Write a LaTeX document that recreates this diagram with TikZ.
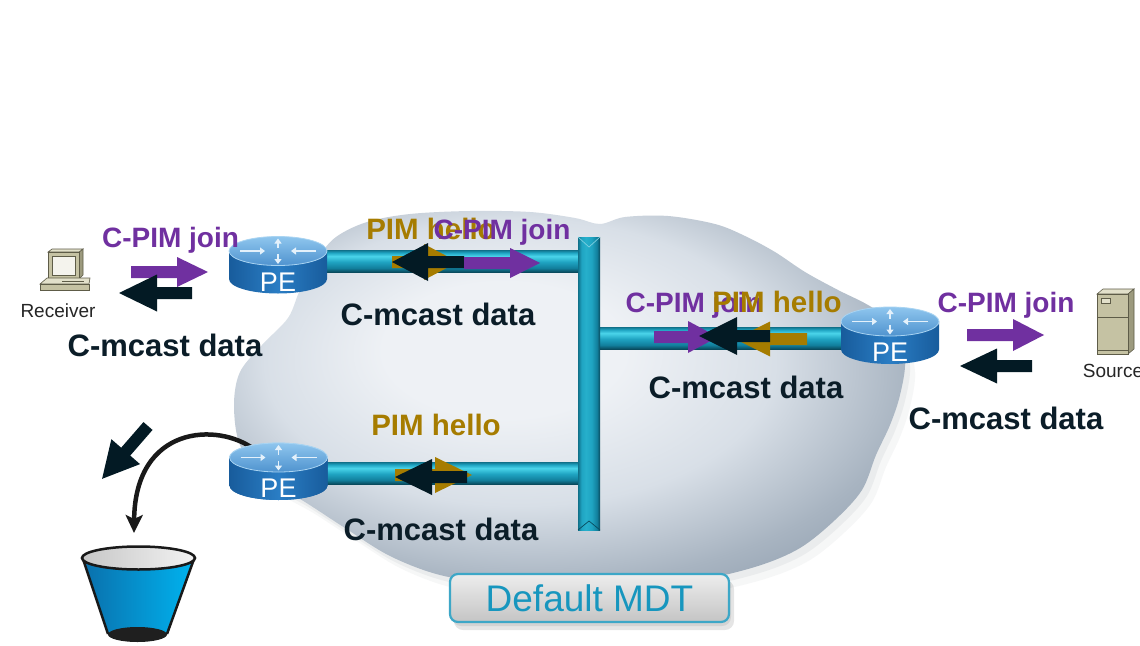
\documentclass[tikz,border=0pt]{standalone}
\usepackage{fontspec}
\setmainfont{Liberation Sans}
\usetikzlibrary{arrows.meta}

\definecolor{joinc}{HTML}{7030A0}
\definecolor{helloc}{HTML}{A67C00}
\definecolor{datac}{HTML}{0B1D28}
\definecolor{arrowk}{HTML}{031A24}
\definecolor{pipeE}{HTML}{094B5E}
\definecolor{pipeD}{HTML}{127F9C}
\definecolor{pipeM}{HTML}{1FA4C2}
\definecolor{pipeL}{HTML}{4AD4EA}
\definecolor{pipeT}{HTML}{107089}
\definecolor{pipeV}{HTML}{26AFCB}
\definecolor{cloudA}{HTML}{EEF1F5}
\definecolor{cloudB}{HTML}{D8DFE7}
\definecolor{cloudC}{HTML}{A8B4C1}
\definecolor{cloudD}{HTML}{8191A3}
\definecolor{cloudS}{HTML}{5A6472}
\definecolor{peTopL}{HTML}{8FC6EE}
\definecolor{peTop}{HTML}{4F93CF}
\definecolor{peSide}{HTML}{2A7DC4}
\definecolor{peSideD}{HTML}{185C9C}
\definecolor{peRim}{HTML}{A9D4F2}
\definecolor{peArr}{HTML}{E4F1FB}
\definecolor{mdtc}{HTML}{1796BE}
\definecolor{mdtline}{HTML}{3DA7C7}
\definecolor{beige}{HTML}{C5C2A3}
\definecolor{beigeD}{HTML}{9C9A7E}
\definecolor{beigeL}{HTML}{E2E0CA}
\definecolor{iconline}{HTML}{5E5C48}
\definecolor{bucketL}{HTML}{0A70AC}
\definecolor{bucketR}{HTML}{00B3EF}

% pipe shadings (horizontal and vertical runs)
\pgfdeclareverticalshading{pipeh}{100bp}{color(0bp)=(pipeE); color(25bp)=(pipeE); color(34bp)=(pipeD); color(48bp)=(pipeM); color(61bp)=(pipeL); color(69bp)=(pipeM); color(75bp)=(pipeT); color(100bp)=(pipeT)}
\pgfdeclarehorizontalshading{pipev}{100bp}{color(0bp)=(pipeT); color(25bp)=(pipeT); color(33bp)=(pipeM); color(43bp)=(pipeV); color(56bp)=(pipeM); color(68bp)=(pipeD); color(75bp)=(pipeE); color(100bp)=(pipeE)}
% cloud body, lit from the upper left
\pgfdeclareradialshading{cloudsh}{\pgfpoint{-6bp}{8bp}}{color(0bp)=(cloudA); color(9bp)=(cloudA); color(19bp)=(cloudB); color(28bp)=(cloudC); color(38bp)=(cloudD); color(50bp)=(cloudD)}

\newcommand\cloudpath{plot[smooth cycle,tension=0.55] coordinates {
 (336,237) (367,222) (410,214) (470,211) (530,212) (575,218) (600,224) (625,217)
 (668,216) (715,224) (745,236) (775,252) (805,272) (838,290) (868,305) (895,324)
 (905,360) (900,395) (890,425) (876,455) (862,490) (835,520) (800,548) (758,566)
 (700,580) (640,586) (580,588) (500,584) (440,575) (390,556) (345,528) (305,502)
 (265,478) (240,445) (234,405) (240,372) (262,345) (288,318) (300,290) (318,258)}}

% block arrow: colour, tail x, tail y, angle, length, head length, head half-width
\newcommand\fatarrow[7]{%
  \fill[#1,shift={(#2,#3)},rotate=#4] (0,-6) -- ({#5-#6},-6) -- ({#5-#6},-#7)
    -- (#5,0) -- ({#5-#6},#7) -- ({#5-#6},6) -- (0,6) -- cycle;}

\tikzset{
  datalbl/.style={font=\fontsize{31}{34}\selectfont\bfseries, text=datac, inner sep=0pt, anchor=base},
  joinlbl/.style={font=\fontsize{28}{31}\selectfont\bfseries, text=joinc, inner sep=0pt, anchor=base},
  hellolbl/.style={font=\fontsize{29.5}{32}\selectfont\bfseries, text=helloc, inner sep=0pt, anchor=base},
  hostlbl/.style={font=\fontsize{19}{21}\selectfont, text=black!85, inner sep=0pt, anchor=base},
  pearrow/.style={draw=peArr, line width=1.6pt, -{Triangle[length=5pt,width=7pt]}},
  pelabel/.style={font=\fontsize{27}{29}\selectfont, text=white, inner sep=0pt},
  mdtbox/.style={draw=mdtline, line width=2.2pt, rounded corners=8pt, top color=white!93!black,
    bottom color=white!77!black, minimum width=279pt, minimum height=48pt, inner sep=0pt,
    font=\fontsize{37}{40}\selectfont, text=mdtc},
  pics/pe/.style={code={
    \coordinate (-rim) at (-24,-8);
    \shade[left color=peSideD, right color=peSideD, middle color=peSide]
      (-49,0) -- (-49,28) arc[start angle=180,end angle=0,x radius=49,y radius=14.5] -- (49,0) -- cycle;
    \shade[top color=peTopL, bottom color=peTop] (0,0) ellipse[x radius=49,y radius=14.5];
    \draw[peRim, line width=0.8pt] (0,0) ellipse[x radius=49,y radius=14.5];
    \draw[pearrow] (-38,0) -- (-13,0);
    \draw[pearrow] (38,0) -- (13,0);
    \draw[pearrow] (0,-3) -- (0,-12.5);
    \draw[pearrow] (0,3) -- (0,13);
    \node[pelabel] (-lbl) at (0,31) {PE};
  }}
}

\begin{document}
\begin{tikzpicture}[x=1pt,y=-1pt]
\useasboundingbox (0,0) rectangle (1140,645);
\fill[white] (0,0) rectangle (1140,645);

% provider cloud with a soft shadow
\fill[cloudS,opacity=0.05,shift={(10,12)}] \cloudpath;
\fill[cloudS,opacity=0.07,shift={(5,6)}] \cloudpath;
\shade[shading=cloudsh] \cloudpath;

% Default MDT tag
\fill[black,opacity=0.10,rounded corners=9pt] (454,580) rectangle (734,630);
\fill[black,opacity=0.08,rounded corners=9pt] (452,577) rectangle (731,626);
\node[mdtbox] (mdt) at (589.5,598) {Default MDT};

% MDT pipes
\shade[shading=pipeh] (325,250) rectangle (582,272);
\shade[shading=pipeh] (598,327) rectangle (845,349);
\shade[shading=pipeh] (325,462) rectangle (582,484);
\shade[shading=pipev] (578,237) rectangle (600,530);
\draw[pipeV!60!white,line width=0.7pt] (578,237) -- (589,247) -- (600,237);
\draw[pipeE,line width=0.7pt] (578,530) -- (589,521) -- (600,530);

% dropped traffic into the bit bucket
\coordinate (bucketIn) at (134,533);
\pic (peB) at (278.5,457.5) {pe};
\draw[line width=4.5pt, black!90, -{Stealth[length=18pt,width=17pt,inset=4pt]}]
  (peB-rim) .. controls (218,422) and (135,425) .. (bucketIn);
\pic (peB) at (278.5,457.5) {pe};

% PE routers
\pic (peA) at (278,251) {pe};
\pic (peC) at (890,321.5) {pe};

% receiver workstation
\fill[beigeD,draw=iconline,line width=0.6pt] (79,252) -- (83,249) -- (83,275) -- (79,279) -- cycle;
\fill[beigeL,draw=iconline,line width=0.6pt] (48,252) -- (52,249) -- (83,249) -- (79,252) -- cycle;
\fill[beige,draw=iconline,line width=0.6pt] (48,252) rectangle (79,279);
\fill[white!80!beige,draw=iconline,line width=0.8pt] (52,256) rectangle (75,275);
\fill[beigeL,draw=iconline,line width=0.6pt] (40,284) -- (47,278) -- (90,278) -- (89,284) -- cycle;
\fill[beige,draw=iconline,line width=0.6pt] (40,284) rectangle (89,290);
\draw[iconline,line width=0.6pt] (62,281) -- (84,281);

% source server
\fill[beigeL,draw=iconline,line width=0.6pt] (1097,294) -- (1103,289) -- (1134,289) -- (1128,294) -- cycle;
\fill[beigeD,draw=iconline,line width=0.6pt] (1128,294) -- (1134,289) -- (1134,349) -- (1128,354) -- cycle;
\fill[beige,draw=iconline,line width=0.6pt] (1097,294) rectangle (1128,354);
\draw[iconline,line width=0.6pt] (1097,317) -- (1128,317);
\draw[iconline,line width=0.5pt] (1097,350) -- (1128,350);
\fill[beigeL,draw=iconline,line width=0.5pt] (1101,298) rectangle (1110,303);

% bit bucket
\shade[left color=bucketL, right color=bucketR] (83,559) -- (108,634) -- (167,634) -- (194,559) -- cycle;
\fill[black!88] (137.5,634.5) ellipse[x radius=29.5,y radius=7.5];
\draw[black!90,line width=2.5pt] (83,559) -- (108,634) (194,559) -- (167,634);
\shade[left color=white!78!black, right color=white!95!black, draw=black!90, line width=2.5pt]
  (138.5,558) ellipse[x radius=56.5,y radius=11.5];

% message arrows
\fatarrow{joinc}{131}{272}{0}{77}{31}{15}
\fatarrow{arrowk}{192}{293}{180}{73}{38}{18.5}

\fatarrow{helloc}{392}{262}{0}{66}{34}{18}
\fatarrow{arrowk}{464}{262}{180}{72}{36}{19}
\fatarrow{joinc}{464}{263}{0}{76}{30}{15}

\fatarrow{helloc}{807}{339}{180}{72}{35}{17.5}
\fatarrow{joinc}{654}{337}{0}{64}{30}{16}
\fatarrow{arrowk}{770}{336}{180}{71}{38}{19}

\fatarrow{joinc}{967}{335}{0}{77}{31}{16}
\fatarrow{arrowk}{1032}{366}{180}{72}{37}{17.5}

\fatarrow{helloc}{395}{475}{0}{77}{37}{18}
\fatarrow{arrowk}{467}{477}{180}{72}{37}{18}

\fatarrow{arrowk}{148}{426}{229}{70}{36}{19}

% labels
\node[hostlbl] (recvlbl) at (58,317) {Receiver};
\node[hostlbl] (srclbl) at (1113,377) {Source};
\node[joinlbl] (joinRecv) at (170.5,247) {C-PIM join};
\node[datalbl] (dataRecv) at (165,356) {C-mcast data};

\node[hellolbl] (helloA) at (431,239) {PIM hello};
\node[joinlbl] (joinA) at (502,239) {C-PIM join};
\node[datalbl] (dataA) at (438,325) {C-mcast data};

\node[joinlbl] (joinC) at (694,312) {C-PIM join};
\node[hellolbl] (helloC) at (777,312) {PIM hello};
\node[datalbl] (dataC) at (746,398) {C-mcast data};

\node[joinlbl] (joinSrc) at (1006,312) {C-PIM join};
\node[datalbl] (dataSrc) at (1006,429) {C-mcast data};

\node[hellolbl] (helloB) at (436,435) {PIM hello};
\node[datalbl] (dataB) at (441,540) {C-mcast data};
\end{tikzpicture}
\end{document}
